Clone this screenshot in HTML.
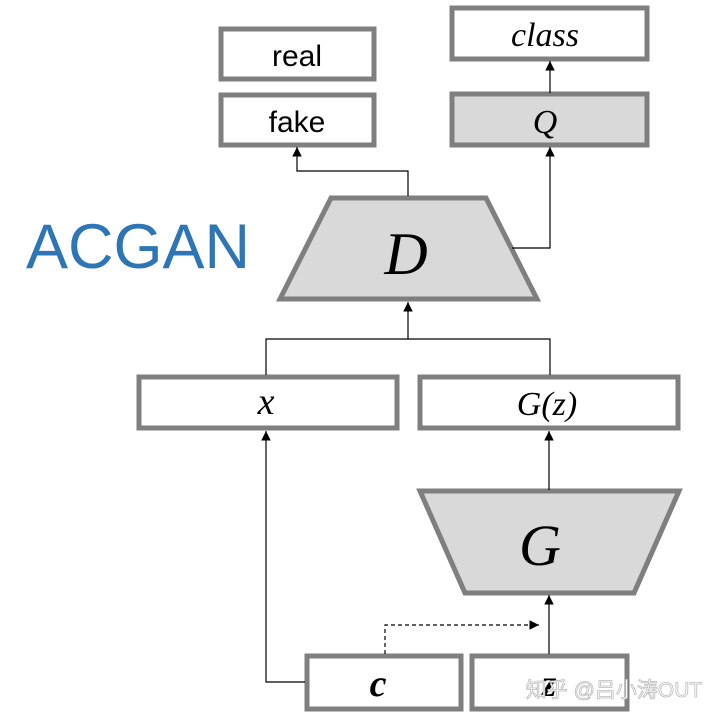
<!DOCTYPE html>
<html><head><meta charset="utf-8"><style>
html,body{margin:0;padding:0;background:#fff;width:720px;height:718px;overflow:hidden}
</style></head><body>
<svg width="720" height="718" viewBox="0 0 720 718" xmlns="http://www.w3.org/2000/svg">
<defs>
<marker id="a" viewBox="0 0 10 10" refX="10" refY="5" markerWidth="8" markerHeight="8" orient="auto"><path d="M0,0 L10,5 L0,10 z" fill="#000"/></marker>
</defs>
<g fill="none" stroke="#7f7f7f" stroke-width="5">
<rect x="221" y="29" width="153" height="50" fill="#fff"/>
<rect x="221" y="95" width="153" height="50" fill="#fff"/>
<rect x="452" y="8" width="195" height="51" fill="#fff"/>
<rect x="452" y="94" width="195" height="51" fill="#d9d9d9"/>
<polygon points="331,198 486,198 537,299 280,299" fill="#d9d9d9"/>
<rect x="139" y="377" width="258" height="51" fill="#fff"/>
<rect x="420" y="377" width="258" height="51" fill="#fff"/>
<polygon points="420,491 679,491 634,593 465,593" fill="#d9d9d9"/>
<rect x="307" y="656" width="154" height="53" fill="#fff"/>
<rect x="472" y="656" width="155" height="53" fill="#fff"/>
</g>
<g fill="none" stroke="#000" stroke-width="1.2">
<path d="M408,196 V171 H297 V147" marker-end="url(#a)"/>
<path d="M512,248 H550 V147" marker-end="url(#a)"/>
<path d="M550,93 V61" marker-end="url(#a)"/>
<path d="M266,375 V339 H550 V375 M408,339 V302" marker-end="url(#a)"/>
<path d="M549,490 V431" marker-end="url(#a)"/>
<path d="M305,682 H266 V431" marker-end="url(#a)"/>
<path d="M549,654 V595" marker-end="url(#a)"/>
<path d="M385,654 V625 H539" stroke-dasharray="4,3" marker-end="url(#a)"/>
</g>
<g font-family="Liberation Sans, sans-serif" fill="#000" text-anchor="middle">
<text x="297" y="66" font-size="30">real</text>
<text x="297" y="132" font-size="30">fake</text>
<text x="545" y="46" font-size="34" font-style="italic" font-family="Liberation Serif, serif">class</text>
<text x="545" y="133" font-size="34" font-style="italic" font-family="Liberation Serif, serif">Q</text>
<text x="406" y="274" font-size="60" font-style="italic" font-family="Liberation Serif, serif">D</text>
<text x="266" y="414" font-size="38" font-style="italic" font-family="Liberation Serif, serif">x</text>
<text x="547" y="415" font-size="34" font-style="italic" font-family="Liberation Serif, serif">G(z)</text>
<text x="540" y="565" font-size="58" font-style="italic" font-family="Liberation Serif, serif">G</text>
<text x="378" y="696" font-size="38" font-style="italic" font-weight="bold" font-family="Liberation Serif, serif">c</text>
<text x="549" y="696" font-size="38" font-style="italic" font-weight="bold" font-family="Liberation Serif, serif">z</text>
<text x="138" y="268" font-size="63" fill="#2e75b6" textLength="224" lengthAdjust="spacingAndGlyphs">ACGAN</text>
<text x="614" y="697" font-size="21" fill="#fff" stroke="#bbb" stroke-width="0.8" font-family="Liberation Sans, Noto Sans CJK SC, sans-serif">知乎 @吕小涛OUT</text>
</g>
</svg>
</body></html>
